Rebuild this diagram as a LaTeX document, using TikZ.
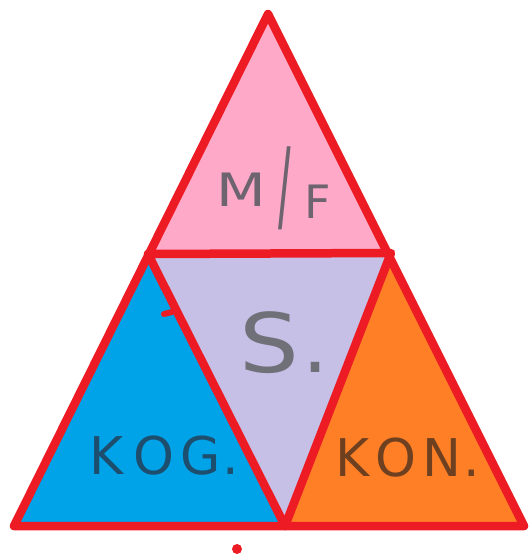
\documentclass[tikz,border=0pt]{standalone}
\usepackage{fontspec}
\setmainfont{DejaVu Sans}
\definecolor{redline}{HTML}{ED1C24}
\definecolor{pinkf}{HTML}{FFA9C8}
\definecolor{lavf}{HTML}{C6BFE6}
\definecolor{bluef}{HTML}{00A2E8}
\definecolor{orangef}{HTML}{FF7F27}
\definecolor{grayt}{HTML}{6E6470}
\definecolor{bluet}{HTML}{1E4E6E}
\definecolor{brownt}{HTML}{6E4020}
\definecolor{lavt}{HTML}{707078}
\tikzset{
  edge/.style={draw=redline, line width=8.5pt, line join=round, line cap=round},
  lbl/.style={inner sep=0pt}
}
\begin{document}
\begin{tikzpicture}[x=1pt,y=-1pt]
\useasboundingbox (0,0) rectangle (530,560);
\coordinate (A) at (268,14);
\coordinate (BL) at (14,526);
\coordinate (BR) at (524,526);
\coordinate (L) at (148,254);
\coordinate (R) at (391,253);
\coordinate (M) at (285,526);
\fill[pinkf] (A) -- (L) -- (R) -- cycle;
\fill[lavf] (L) -- (R) -- (M) -- cycle;
\fill[bluef] (L) -- (M) -- (BL) -- cycle;
\fill[orangef] (R) -- (BR) -- (M) -- cycle;
\draw[edge] (A) -- (BL) -- (BR) -- cycle;
\draw[edge] (L) -- (R) -- (M) -- cycle;
\draw[redline, line width=6pt, line cap=round] (164,314) -- (172,312);
\fill[redline] (237,549) circle (5);
\node[lbl, text=grayt, font=\fontsize{46}{46}\selectfont] (mf) at (274,188)
  {\raisebox{10pt}{\scalebox{1.25}[1]{M}}\hspace{12pt}\raisebox{-4pt}{\scalebox{0.75}[2.2]{\bfseries /}}\hspace{14pt}\raisebox{-2pt}{F}};
\node[lbl, text=lavt, font=\fontsize{82}{82}\selectfont] (s) at (284,343) {\scalebox{1.15}[1]{S}\hspace{4pt}.};
\node[lbl, text=bluet, font=\fontsize{52}{52}\selectfont] (kog) at (164,456)
  {K\hspace{10pt}O\hspace{6pt}G\hspace{2pt}.};
\node[lbl, text=brownt, font=\fontsize{52}{52}\selectfont] (kon) at (408,458)
  {K\hspace{6pt}O\hspace{6pt}N\hspace{2pt}.};
\end{tikzpicture}
\end{document}
